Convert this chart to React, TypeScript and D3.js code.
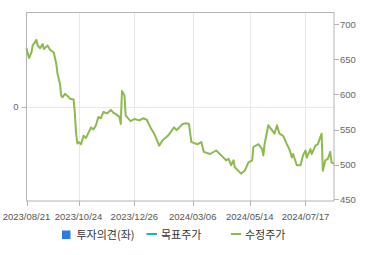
import React, { useEffect, useRef } from "react";
import * as d3 from "d3";

// trading-day index of each sampled point and adjusted price (수정주가)
const dayIndex = [0, 2, 4, 5, 8, 9, 11, 13, 14, 17, 19, 22, 24, 25, 27, 28, 29, 31, 33, 35, 38, 39, 40, 41, 42, 44, 46, 48, 52, 54, 56, 58, 60, 62, 65, 68, 70, 72, 75, 76, 77, 79, 80, 82, 84, 87, 91, 94, 97, 100, 103, 107, 110, 114, 117, 119, 121, 126, 129, 131, 133, 138, 141, 143, 148, 153, 157, 161, 163, 165, 167, 168, 173, 176, 179, 182, 183, 187, 190, 191, 192, 195, 198, 200, 202, 204, 207, 210, 212, 214, 215, 218, 221, 223, 225, 226, 229, 230, 233, 235, 238, 239, 241, 243, 245, 246, 248];
const prices = [666, 652, 660, 670, 678, 670, 666, 672, 665, 670, 664, 660, 644, 630, 615, 598, 596, 601, 598, 594, 593, 573, 545, 530, 532, 529, 541, 538, 553, 550, 556, 568, 566, 575, 573, 578, 574, 572, 568, 558, 605, 599, 570, 566, 562, 565, 563, 566, 564, 553, 544, 527, 535, 541, 548, 553, 549, 558, 559, 558, 532, 529, 532, 518, 515, 520, 513, 506, 508, 499, 506, 496, 487, 491, 503, 506, 525, 529, 522, 513, 529, 556, 549, 544, 556, 544, 541, 529, 522, 510, 515, 499, 499, 513, 520, 510, 522, 515, 527, 529, 544, 491, 506, 508, 518, 503, 501];

const tickLabels = ["2023/08/21", "2023/10/24", "2023/12/26", "2024/03/06", "2024/05/14", "2024/07/17"];
const tickIndex = [0, 42, 87, 134, 180, 225];
const rightTicks = [450, 500, 550, 600, 650, 700];
const leftTicks = [0];
const legendItems = ["투자의견(좌)", "목표주가", "수정주가"];

const W = 370, H = 255;
const L = 26.5, R = 334, T = 12.5, B = 201;

export default function App() {
  const ref = useRef<SVGSVGElement>(null);
  useEffect(() => {
    const svg = d3.select(ref.current);
    svg.selectAll("*").remove();
    const x = d3.scaleLinear().domain([0, 248]).range([L, R]);
    // 50 units = 35px, 450 sits at y=199.5
    const lo = 450 - (B - 199.5) / 35 * 50;
    const y = d3.scaleLinear().domain([lo, lo + (B - T) / 35 * 50]).range([B, T]);
    const yl = d3.scaleLinear().domain([-1, 1]).range([B, T]);
    const font = "'Liberation Sans', Arial, sans-serif";

    // gridlines
    const g = svg.append("g");
    g.selectAll("line.vg").data(tickIndex.slice(1)).enter().append("line")
      .attr("x1", d => Math.round(x(d)) + 0.5).attr("x2", d => Math.round(x(d)) + 0.5)
      .attr("y1", T).attr("y2", B).attr("stroke", "#e8e8e8").attr("stroke-width", 1);
    g.selectAll("line.hg").data(leftTicks).enter().append("line")
      .attr("x1", L).attr("x2", R).attr("y1", d => Math.round(yl(d)) + 0.5).attr("y2", d => Math.round(yl(d)) + 0.5)
      .attr("stroke", "#e8e8e8");

    // border
    svg.append("rect").attr("x", L).attr("y", T).attr("width", R - L).attr("height", B - T)
      .attr("fill", "none").attr("stroke", "#b4b4b4").attr("stroke-width", 1);

    // price line
    const pts = dayIndex.map((d, i) => [d, prices[i]] as [number, number]);
    const line = d3.line<[number, number]>().x(d => x(d[0])).y(d => y(d[1]));
    svg.append("path").attr("d", line(pts)!).attr("fill", "none")
      .attr("stroke", "#8cba4c").attr("stroke-width", 2).attr("stroke-linejoin", "round");

    // right axis
    const ra = svg.append("g").attr("transform", `translate(${R},0)`);
    ra.selectAll("line").data(rightTicks).enter().append("line")
      .attr("x1", 0).attr("x2", 5).attr("y1", d => Math.round(y(d)) + 0.5).attr("y2", d => Math.round(y(d)) + 0.5)
      .attr("stroke", "#b4b4b4");
    ra.selectAll("text").data(rightTicks).enter().append("text")
      .attr("x", 6).attr("y", d => y(d)).attr("dy", "0.35em")
      .attr("font-family", font).attr("font-size", 9.5).attr("fill", "#666")
      .text(d => d);

    // left axis
    const la = svg.append("g");
    la.selectAll("line").data(leftTicks).enter().append("line")
      .attr("x1", L - 5).attr("x2", L).attr("y1", d => Math.round(yl(d)) + 0.5).attr("y2", d => Math.round(yl(d)) + 0.5)
      .attr("stroke", "#b4b4b4");
    la.selectAll("text").data(leftTicks).enter().append("text")
      .attr("x", L - 8).attr("y", d => yl(d)).attr("dy", "0.35em").attr("text-anchor", "end")
      .attr("font-family", font).attr("font-size", 9.5).attr("fill", "#666").text(d => d);

    // bottom axis
    const ba = svg.append("g");
    ba.selectAll("line").data(tickIndex).enter().append("line")
      .attr("x1", d => Math.round(x(d)) + 0.5).attr("x2", d => Math.round(x(d)) + 0.5)
      .attr("y1", B).attr("y2", B + 5).attr("stroke", "#b4b4b4");
    ba.selectAll("text").data(tickIndex).enter().append("text")
      .attr("x", d => x(d)).attr("y", 220).attr("text-anchor", "middle")
      .attr("font-family", font).attr("font-size", 9.5).attr("fill", "#555")
      .text((d, i) => tickLabels[i]);

    // legend
    const kfont = "'Noto Sans CJK KR', 'Noto Sans', sans-serif";
    const lg = svg.append("g");
    lg.append("rect").attr("x", 62).attr("y", 230.5).attr("width", 8.5).attr("height", 8.5).attr("fill", "#2b7ce0");
    lg.append("line").attr("x1", 146.5).attr("x2", 157).attr("y1", 234).attr("y2", 234)
      .attr("stroke", "#1bb3c9").attr("stroke-width", 2);
    lg.append("line").attr("x1", 231).attr("x2", 241).attr("y1", 234).attr("y2", 234)
      .attr("stroke", "#8cba4c").attr("stroke-width", 2);
    const lx = [76.5, 161, 245];
    lg.selectAll("text").data(legendItems).enter().append("text")
      .attr("x", (d, i) => lx[i]).attr("y", 238.5)
      .attr("font-family", kfont).attr("font-size", 11).attr("fill", "#333")
      .text(d => d);
  }, []);
  return (
    <svg ref={ref} width={W} height={H} style={{ position: "absolute", left: 0, top: 0, background: "#fff" }} />
  );
}
